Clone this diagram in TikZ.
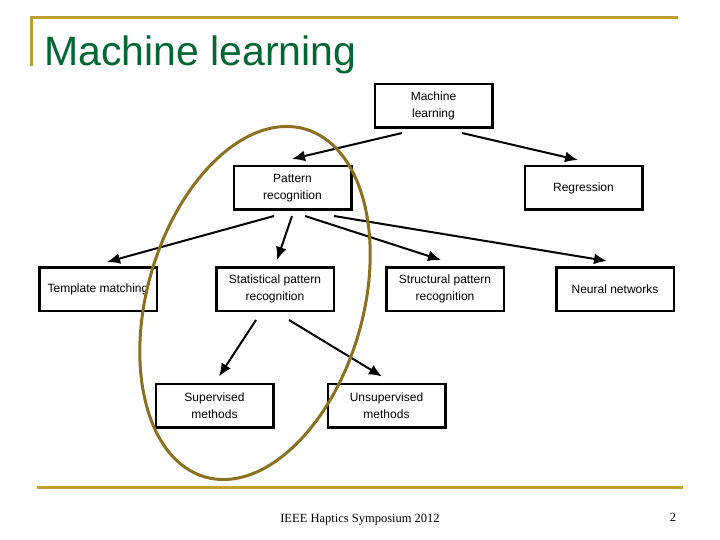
\documentclass[tikz,border=0pt]{standalone}
\usepackage{fontspec}
\setmainfont{Liberation Sans}
\newfontfamily\footfont{Liberation Serif}
\usepackage{xcolor}
\usetikzlibrary{arrows.meta}
\usetikzlibrary{positioning}

\definecolor{slidegold}{RGB}{191,159,47}
\definecolor{titlegreen}{RGB}{0,102,51}
\definecolor{ringolive}{RGB}{139,112,32}

\tikzset{
    box/.style={draw,line width=2.5pt,minimum width=117.5pt,minimum height=43.5pt,
        align=center,inner sep=2pt,font=\fontsize{12}{17}\selectfont},
    arr/.style={line width=2pt,-{Latex[length=13pt,width=11pt]}}
}

\begin{document}
\begin{tikzpicture}[x=1pt,y=-1pt]
        \useasboundingbox (0,0) rectangle (720,540);
        % slide frame
        \draw[slidegold,line width=3pt] (31,66) -- (31,18) -- (678,18);
        \draw[slidegold,line width=3pt] (37,487) -- (683,487);
        \node[anchor=base west,inner sep=0pt,text=titlegreen,font=\fontsize{41}{41}\selectfont]
            (title) at (44,66) {Machine learning};

        % tree of methods
        \node[box] (ml) at (433.5,106) {Machine\\learning};
        \node[box] (pr) at (292.5,188) {Pattern\\recognition};
        \node[box] (reg) at (583.5,188) {Regression};
        \node[box] (tm) at (98,289) {Template matching};
        \node[box] (spr) at (275,289) {Statistical pattern\\recognition};
        \node[box] (strpr) at (445,289) {Structural pattern\\recognition};
        \node[box] (nn) at (615,289) {Neural networks};
        \node[box] (sup) at (214.5,405.5) {Supervised\\methods};
        \node[box] (unsup) at (386.5,405.5) {Unsupervised\\methods};

        \draw[arr] ([xshift=-31.5pt,yshift=-4pt]ml.south) -- ([xshift=-0.5pt,yshift=6pt]pr.north);
        \draw[arr] ([xshift=28.5pt,yshift=-4pt]ml.south) -- ([xshift=-5.5pt,yshift=5pt]reg.north);
        \draw[arr] ([xshift=-18.5pt,yshift=-5pt]pr.south) -- ([xshift=9pt,yshift=4pt]tm.north);
        \draw[arr] ([xshift=-0.5pt,yshift=-5pt]pr.south) -- ([xshift=2pt,yshift=6pt]spr.north);
        \draw[arr] ([xshift=12.5pt,yshift=-5pt]pr.south) -- ([xshift=-4pt,yshift=6pt]strpr.north);
        \draw[arr] ([xshift=41.5pt,yshift=-5pt]pr.south) -- ([xshift=-8pt,yshift=5pt]nn.north);
        \draw[arr] ([xshift=-19pt,yshift=-8pt]spr.south) -- ([xshift=4.5pt,yshift=6pt]sup.north);
        \draw[arr] ([xshift=14pt,yshift=-8pt]spr.south) -- ([xshift=-4.5pt,yshift=6pt]unsup.north);

        % ring round the statistical branch
        \coordinate (ringc) at (255,303);
        \draw[ringolive,line width=3pt,rotate around={-16:(ringc)}]
            (ringc) ellipse [x radius=108pt,y radius=181pt];

        % footer
        \node[font=\footfont\fontsize{12.5}{14}\selectfont,anchor=base,inner sep=0pt]
            (foot) at (360,522) {IEEE Haptics Symposium 2012};
        \node[font=\footfont\fontsize{12.5}{14}\selectfont,anchor=base,inner sep=0pt]
            (pagenum) at (673,521) {2};
    \end{tikzpicture}
\end{document}
